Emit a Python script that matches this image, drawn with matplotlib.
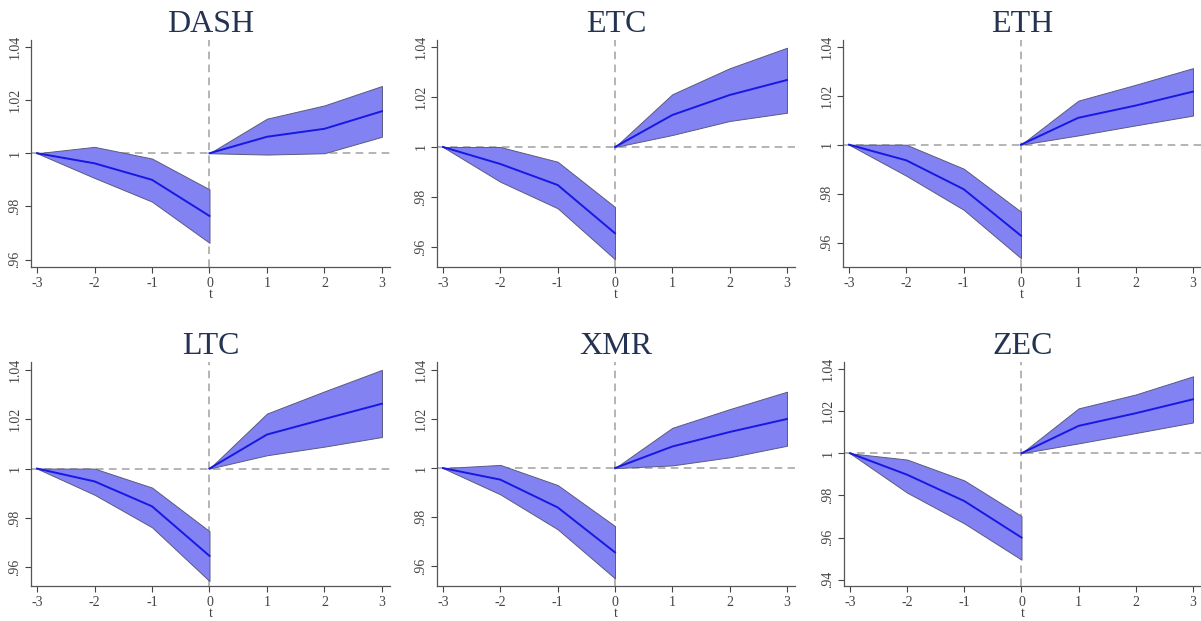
import matplotlib
matplotlib.use("Agg")
import matplotlib.pyplot as plt

# periodos (t=0 aparece dos veces: final del tramo previo e inicio del posterior)
t = [-3, -2, -1, 0, 0, 1, 2, 3]
monedas = ["DASH", "ETC", "ETH", "LTC", "XMR", "ZEC"]

dash_mean = [1.0, 0.9962, 0.9900, 0.9764, 1.0, 1.0062, 1.0092, 1.0158]
dash_lo = [1.0, 0.9907, 0.9818, 0.9663, 1.0, 0.9995, 1.0000, 1.0062]
dash_hi = [1.0, 1.0024, 0.9980, 0.9864, 1.0, 1.0130, 1.0180, 1.0253]

etc_mean = [1.0, 0.9932, 0.9848, 0.9655, 1.0, 1.0128, 1.0208, 1.0268]
etc_lo = [1.0, 0.9861, 0.9755, 0.9551, 1.0, 1.0048, 1.0104, 1.0137]
etc_hi = [1.0, 1.0000, 0.9941, 0.9760, 1.0, 1.0211, 1.0315, 1.0397]

eth_mean = [1.0, 0.9936, 0.9818, 0.9628, 1.0, 1.0110, 1.0160, 1.0217]
eth_lo = [1.0, 0.9873, 0.9734, 0.9536, 1.0, 1.0038, 1.0079, 1.0119]
eth_hi = [1.0, 1.0000, 0.9902, 0.9726, 1.0, 1.0180, 1.0245, 1.0313]

ltc_mean = [1.0, 0.9948, 0.9847, 0.9646, 1.0, 1.0138, 1.0201, 1.0263]
ltc_lo = [1.0, 0.9894, 0.9762, 0.9544, 1.0, 1.0054, 1.0089, 1.0128]
ltc_hi = [1.0, 1.0000, 0.9923, 0.9746, 1.0, 1.0223, 1.0313, 1.0400]

xmr_mean = [1.0, 0.9953, 0.9840, 0.9657, 1.0, 1.0088, 1.0147, 1.0200]
xmr_lo = [1.0, 0.9893, 0.9751, 0.9551, 1.0, 1.0011, 1.0044, 1.0091]
xmr_hi = [1.0, 1.0013, 0.9931, 0.9764, 1.0, 1.0164, 1.0240, 1.0311]

zec_mean = [1.0, 0.9898, 0.9773, 0.9600, 1.0, 1.0130, 1.0190, 1.0256]
zec_lo = [1.0, 0.9813, 0.9667, 0.9495, 1.0, 1.0047, 1.0096, 1.0146]
zec_hi = [1.0, 0.9970, 0.9871, 0.9702, 1.0, 1.0213, 1.0279, 1.0365]

medias = [dash_mean, etc_mean, eth_mean, ltc_mean, xmr_mean, zec_mean]
bajos = [dash_lo, etc_lo, eth_lo, ltc_lo, xmr_lo, zec_lo]
altos = [dash_hi, etc_hi, eth_hi, ltc_hi, xmr_hi, zec_hi]

y_ticks = [[0.96, 0.98, 1.0, 1.02, 1.04]] * 5 + [[0.94, 0.96, 0.98, 1.0, 1.02, 1.04]]
y_labels = [[".96", ".98", "1", "1.02", "1.04"]] * 5 + [[".94", ".96", ".98", "1", "1.02", "1.04"]]
y_lims = [(0.9572, 1.0426), (0.952, 1.0428), (0.950, 1.0428),
          (0.9524, 1.0432), (0.952, 1.0432), (0.937, 1.0433)]

plt.rcParams['font.family'] = ['Liberation Serif', 'DejaVu Serif']

W, H = 1201, 621
fig = plt.figure(figsize=(W / 100, H / 100), dpi=100)
fig.patch.set_facecolor('white')

# posiciones de los ejes en pixeles (izq, der, arriba, abajo)
cajas = [(31, 390, 40, 267), (437, 795, 40, 267), (843, 1201, 40, 267),
         (31, 390, 362, 586), (437, 795, 362, 586), (844, 1201, 362, 586)]

gris = '#555555'
for i, nombre in enumerate(monedas):
    x0, x1, y0, y1 = cajas[i]
    ax = fig.add_axes([x0 / W, 1 - y1 / H, (x1 - x0) / W, (y1 - y0) / H])
    m, lo, hi = medias[i], bajos[i], altos[i]

    ax.axhline(1, color='#a0a0a0', lw=1.1, dashes=(5, 3.5), zorder=1)
    ax.axvline(0, color='#a0a0a0', lw=1.1, dashes=(5, 3.5), zorder=1)

    for a, b in [(0, 4), (4, 8)]:
        ax.fill_between(t[a:b], lo[a:b], hi[a:b], facecolor='#8282f2',
                        edgecolor='#5a5a80', lw=0.7, zorder=2)
        ax.plot(t[a:b], m[a:b], color='#1818e4', lw=1.4, zorder=3)

    ax.set_xlim(-3.105, 3.14)
    ax.set_ylim(*y_lims[i])
    ax.set_xticks([-3, -2, -1, 0, 1, 2, 3])
    ax.set_xticklabels(['-3', '-2', '-1', '0', '1', '2', '3'])
    ax.set_yticks(y_ticks[i])
    ax.set_yticklabels(y_labels[i], rotation=90, va='center')
    ax.tick_params(colors='#444444', labelsize=10, length=4, width=0.8, pad=3)
    ax.set_xlabel('t', fontsize=10, color='#444444', labelpad=-1)
    for s in ['top', 'right']:
        ax.spines[s].set_visible(False)
    for s in ['left', 'bottom']:
        ax.spines[s].set_color(gris)
        ax.spines[s].set_linewidth(0.9)
    ax.set_title(nombre, fontsize=23, color='#243352', pad=6)

fig.savefig('out.png', dpi=100, facecolor='white')
